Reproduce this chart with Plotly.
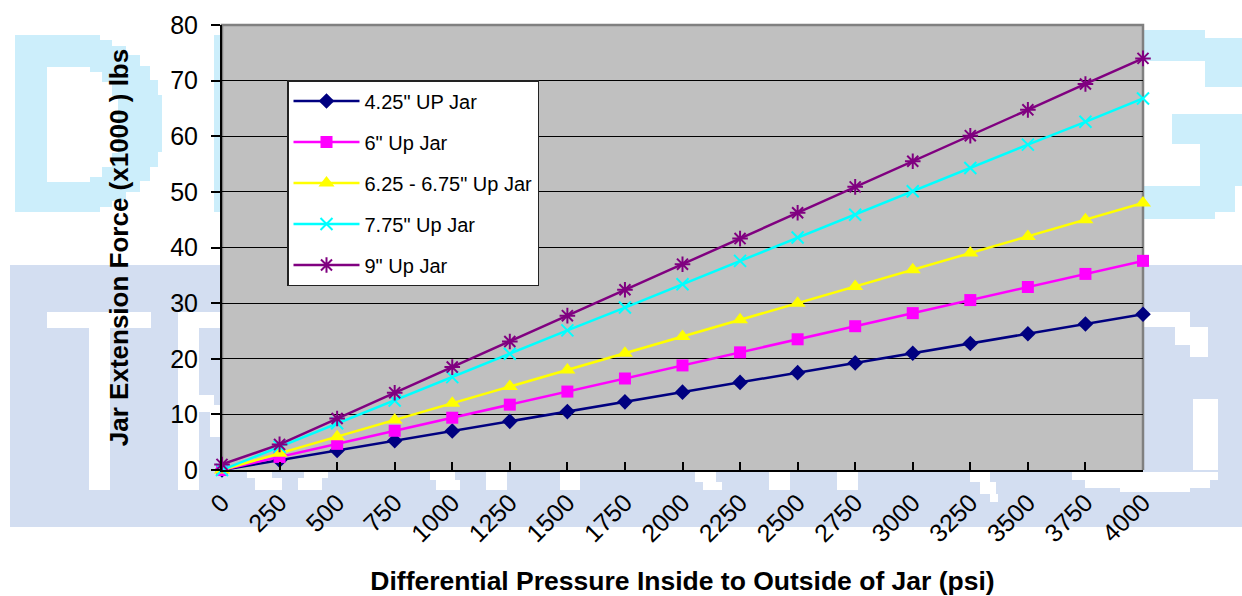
import plotly.graph_objects as go

# Differential pressure (psi) across the jar
pressure = [0, 250, 500, 750, 1000, 1250, 1500, 1750, 2000,
            2250, 2500, 2750, 3000, 3250, 3500, 3750, 4000]

# Jar extension force (x1000 lbs) for each jar size
jar_425 = [0, 1.75, 3.5, 5.25, 7.0, 8.75, 10.5, 12.25, 14.0,
           15.75, 17.5, 19.25, 21.0, 22.75, 24.5, 26.25, 28.0]
jar_600 = [0, 2.35, 4.7, 7.05, 9.4, 11.75, 14.1, 16.45, 18.8,
           21.15, 23.5, 25.85, 28.2, 30.55, 32.9, 35.25, 37.6]
jar_625_675 = [0, 3, 6, 9, 12, 15, 18, 21, 24,
               27, 30, 33, 36, 39, 42, 45, 48]
jar_775 = [0, 4.2, 8.4, 12.5, 16.7, 20.9, 25.1, 29.2, 33.4,
           37.6, 41.8, 45.9, 50.1, 54.3, 58.5, 62.6, 66.8]
jar_900 = [1.0, 4.6, 9.25, 13.9, 18.5, 23.1, 27.75, 32.4, 37.0,
           41.6, 46.25, 50.9, 55.5, 60.1, 64.75, 69.4, 74.0]

series_names = ['4.25" UP Jar', '6" Up Jar', '6.25 - 6.75" Up Jar',
                '7.75" Up Jar', '9" Up Jar']
series_values = [jar_425, jar_600, jar_625_675, jar_775, jar_900]

x_ticks = pressure
y_ticks = [0, 10, 20, 30, 40, 50, 60, 70, 80]

W, H = 1242, 596
L, R, T, B = 222, 99, 25, 126
PW, PH = W - L - R, H - T - B

styles = [
    dict(color="#000080", symbol="diamond", size=12, open=False),
    dict(color="#FF00FF", symbol="square", size=12, open=False),
    dict(color="#FFFF00", symbol="triangle-up", size=14, open=False),
    dict(color="#00FFFF", symbol="x-thin-open", size=12, open=True),
    dict(color="#800080", symbol="asterisk-open", size=13, open=True),
]

FONT = "Arial, Liberation Sans, sans-serif"

fig = go.Figure()
for i, (name, vals, st) in enumerate(zip(series_names, series_values, styles)):
    marker = dict(symbol=st["symbol"], size=st["size"], color=st["color"])
    if st["open"]:
        marker["line"] = dict(color=st["color"], width=2)
    else:
        marker["line"] = dict(width=0)
    fig.add_trace(go.Scatter(
        x=pressure, y=vals, name=name, mode="lines+markers",
        line=dict(color=st["color"], width=2.5),
        marker=marker, cliponaxis=False, legendgroup=f"g{i}",
    ))


def px(x):
    return (x - L) / PW


def py(y):
    return (H - B - y) / PH


def rect(x0, y0, x1, y1, color, layer="below"):
    return dict(type="rect", xref="paper", yref="paper",
                x0=px(x0), x1=px(x1), y0=py(y1), y1=py(y0),
                fillcolor=color, layer=layer, line=dict(width=0))


CY = "#CCEEFB"   # light cyan lettering
BD = "#D3DEF1"   # pale blue band
WH = "#FFFFFF"

shapes = []
# background lettering, upper line
shapes += [
    rect(15, 35, 100, 212, CY), rect(100, 40, 112, 207, CY),
    rect(112, 46, 126, 201, CY), rect(126, 55, 140, 192, CY),
    rect(140, 66, 150, 181, CY), rect(150, 80, 158, 167, CY),
    rect(158, 95, 162, 152, CY),
    rect(47, 67, 90, 182, WH), rect(90, 72, 102, 177, WH),
    rect(102, 82, 112, 167, WH), rect(112, 96, 118, 153, WH),
    rect(214, 35, 222, 212, CY),
    rect(1143, 30, 1205, 61, CY), rect(1205, 38, 1242, 87, CY),
    rect(1172, 114, 1242, 144, CY), rect(1200, 144, 1242, 186, CY),
    rect(1143, 186, 1235, 212, CY), rect(1143, 212, 1215, 219, CY),
]
# background lettering, lower band
shapes += [
    rect(10, 265, 1242, 527, BD),
    rect(47, 312, 151, 328, WH), rect(89, 312, 110, 490, WH),
    rect(178, 312, 222, 328, WH), rect(178, 312, 199, 490, WH),
    rect(199, 395, 214, 412, WH), rect(210, 405, 222, 437, WH),
    rect(247, 472, 272, 478, WH), rect(255, 478, 282, 490, WH),
    rect(304, 472, 328, 478, WH), rect(298, 478, 322, 490, WH),
    rect(430, 472, 455, 480, WH), rect(436, 480, 460, 490, WH),
    rect(486, 472, 507, 490, WH), rect(560, 472, 580, 490, WH),
    rect(695, 472, 716, 482, WH), rect(703, 482, 722, 490, WH),
    rect(769, 472, 790, 490, WH), rect(837, 472, 858, 490, WH),
    rect(970, 472, 990, 482, WH), rect(980, 482, 996, 494, WH),
    rect(990, 494, 998, 502, WH),
    rect(1143, 312, 1190, 327, WH), rect(1175, 327, 1208, 345, WH),
    rect(1190, 345, 1208, 357, WH),
    rect(1193, 399, 1218, 470, WH), rect(1072, 472, 1218, 480, WH),
    rect(1085, 480, 1210, 488, WH), rect(1120, 488, 1190, 492, WH),
]
# plot area fill and frame
shapes.append(rect(L, T, L + PW, T + PH, "#C0C0C0"))
shapes.append(dict(type="path", xref="paper", yref="paper",
                   path="M 0 0 L 0 1 L 1 1 L 1 0", layer="between",
                   line=dict(color="#808080", width=2.5)))

fig.update_layout(
    width=W, height=H,
    margin=dict(l=L, r=R, t=T, b=B, pad=0, autoexpand=False),
    paper_bgcolor="white", plot_bgcolor="rgba(0,0,0,0)",
    font=dict(family=FONT, color="black"),
    shapes=shapes,
    showlegend=True,
    legend=dict(
        x=px(287), y=py(80), xanchor="left", yanchor="top",
        bgcolor="white", bordercolor="#222222", borderwidth=1.5,
        font=dict(size=20, family=FONT, color="black"),
        traceorder="grouped", tracegroupgap=12,
        itemwidth=66, entrywidth=258, entrywidthmode="pixels",
    ),
    xaxis=dict(
        range=[0, 4000], tickvals=x_ticks, ticktext=[str(v) for v in x_ticks],
        tickangle=-45, tickfont=dict(size=25, family=FONT),
        ticks="inside", ticklen=8, tickwidth=1.5, tickcolor="black",
        showgrid=False, zeroline=False, automargin=False,
        showline=True, linecolor="black", linewidth=2,
        ticklabelstandoff=6,
        title=dict(text="<b>Differential Pressure Inside to Outside of Jar (psi)</b>",
                   font=dict(size=26.5, family=FONT), standoff=26),
    ),
    yaxis=dict(
        range=[0, 80], tickvals=y_ticks,
        tickfont=dict(size=25, family=FONT),
        ticks="outside", ticklen=9, tickwidth=1.5, tickcolor="black",
        showgrid=True, gridcolor="black", gridwidth=1,
        zeroline=False, automargin=False,
        showline=True, linecolor="black", linewidth=2,
        ticklabelstandoff=8,
        title=dict(text="<b>Jar Extension Force (x1000 ) lbs</b>",
                   font=dict(size=26, family=FONT), standoff=34),
    ),
)

fig.write_html("out.html")
